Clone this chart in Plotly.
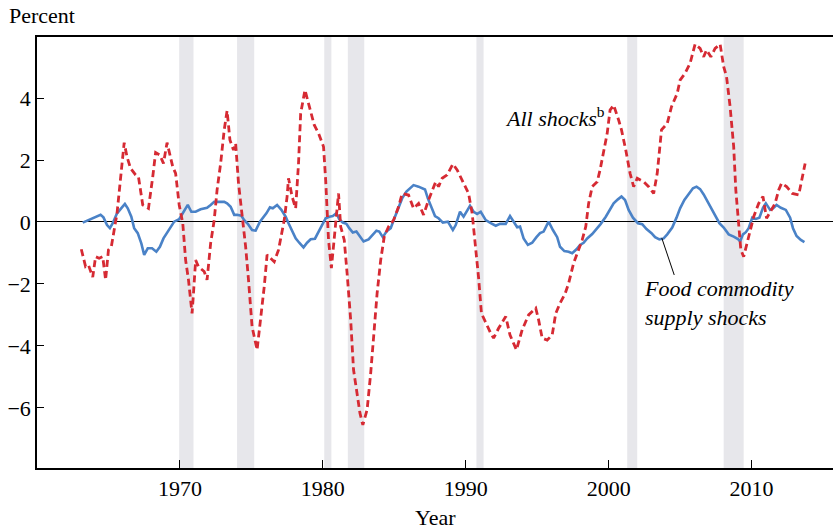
import plotly.graph_objects as go

# ---- data ----
all_years = [1963.1,1963.4,1963.6,1963.9,1964.1,1964.35,1964.6,1964.8,1965.0,1965.2,1965.6,1965.85,
 1966.1,1966.3,1966.55,1966.9,1967.1,1967.4,1967.8,1968.1,1968.3,1968.6,1968.85,1969.1,1969.5,1969.7,
 1969.95,1970.2,1970.4,1970.6,1970.85,1970.95,1971.1,1971.3,1971.7,1971.9,1972.15,1972.4,1972.6,1972.85,
 1973.1,1973.3,1973.5,1973.75,1973.9,1974.1,1974.35,1974.6,1974.8,1975.05,1975.4,1975.65,1975.9,1976.1,
 1976.6,1976.9,1977.3,1977.5,1977.6,1977.85,1978.1,1978.3,1978.45,1978.75,1979.0,1979.4,1979.7,1980.05,
 1980.2,1980.4,1980.6,1980.85,1981.1,1981.25,1981.5,1981.7,1981.95,1982.15,1982.4,1982.6,1982.8,1983.1,
 1983.35,1983.55,1983.8,1984.05,1984.3,1984.6,1984.95,1985.3,1985.55,1986.0,1986.35,1986.7,1987.05,1987.4,
 1987.65,1987.9,1988.1,1988.35,1988.7,1989.1,1989.4,1989.75,1990.0,1990.2,1990.45,1990.7,1990.9,1991.1,
 1991.4,1991.75,1991.95,1992.3,1992.8,1993.1,1993.55,1993.95,1994.4,1994.9,1995.1,1995.35,1995.7,1996.05,
 1996.3,1996.6,1996.95,1997.2,1997.55,1997.8,1998.15,1998.4,1998.6,1998.85,1999.2,1999.4,1999.65,1999.9,
 2000.1,2000.35,2000.7,2000.9,2001.2,2001.5,2001.75,2002.0,2002.45,2002.8,2003.15,2003.4,2003.7,2004.1,
 2004.4,2004.8,2005.0,2005.35,2005.7,2006.05,2006.4,2006.65,2006.85,2007.15,2007.45,2007.8,2008.05,2008.25,
 2008.5,2008.75,2008.9,2009.1,2009.25,2009.45,2009.7,2009.9,2010.15,2010.5,2010.8,2011.05,2011.3,2011.65,
 2011.9,2012.1,2012.45,2012.85,2013.3,2013.5,2013.75]
all_shocks = [-0.88,-1.44,-1.39,-1.78,-1.12,-1.17,-1.12,-1.87,-0.9,-0.8,0.28,1.35,
 2.56,2.1,1.73,1.52,1.46,0.55,0.44,1.46,2.24,2.16,1.89,2.56,1.78,1.57,
 0.55,-0.04,-1.23,-1.87,-2.95,-2.3,-1.23,-1.44,-1.6,-1.87,-0.69,0.06,1.03,1.89,
 2.97,3.59,2.65,2.32,2.54,1.25,0.28,-0.8,-1.87,-3.38,-4.13,-3.16,-2.09,-1.06,
 -1.28,-0.9,0.06,0.82,1.41,0.82,0.44,1.89,3.5,4.26,3.83,3.13,2.86,2.43,
 1.35,-0.58,-1.49,-0.15,0.92,-0.15,-0.58,-1.66,-3.16,-4.77,-5.53,-6.17,-6.55,-6.06,
 -4.88,-3.59,-2.3,-1.23,-0.47,-0.15,0.06,0.49,0.92,0.87,0.44,0.6,0.23,0.71,
 1.03,1.3,1.14,1.41,1.52,1.87,1.68,1.35,1.14,0.92,0.28,-0.8,-1.8,-2.95,
 -3.27,-3.59,-3.75,-3.43,-3.05,-3.65,-4.13,-3.48,-3.0,-2.78,-3.16,-3.75,-3.81,-3.65,
 -2.95,-2.62,-2.32,-1.98,-1.33,-1.01,-0.58,-0.15,0.6,1.14,1.3,1.68,2.32,2.86,
 3.61,3.77,3.29,2.97,2.32,1.57,1.14,1.41,1.3,1.14,0.92,1.57,2.97,3.18,
 3.72,4.15,4.58,4.8,5.12,5.74,5.6,5.33,5.55,5.33,5.6,5.74,5.01,4.69,
 3.72,2.43,1.03,-0.26,-0.9,-1.12,-0.69,-0.26,0.17,0.6,0.82,0.12,0.33,0.6,
 1.03,1.25,1.14,0.92,0.87,1.35,1.89]

food_years = [1963.2,1963.5,1963.9,1964.2,1964.45,1964.65,1964.9,1965.1,1965.3,1965.6,1965.9,1966.15,
 1966.35,1966.6,1966.8,1967.05,1967.3,1967.5,1967.75,1968.05,1968.35,1968.6,1968.85,1969.1,1969.4,1969.6,
 1969.95,1970.15,1970.4,1970.55,1970.8,1971.1,1971.45,1971.7,1971.9,1972.15,1972.4,1972.75,1973.1,1973.3,
 1973.55,1973.8,1974.0,1974.3,1974.5,1974.75,1975.05,1975.3,1975.6,1976.05,1976.3,1976.5,1976.8,1977.1,
 1977.4,1977.6,1977.85,1978.1,1978.35,1978.65,1978.9,1979.15,1979.45,1979.7,1979.95,1980.2,1980.45,1980.7,
 1980.95,1981.15,1981.4,1981.65,1981.85,1982.1,1982.35,1982.55,1982.85,1983.2,1983.45,1983.75,1983.95,1984.2,
 1984.45,1984.75,1985.05,1985.3,1985.55,1985.85,1986.15,1986.35,1986.7,1987.15,1987.35,1987.6,1987.85,1988.1,
 1988.4,1988.75,1989.1,1989.3,1989.6,1989.85,1990.3,1990.55,1990.8,1991.05,1991.4,1991.75,1992.1,1992.4,
 1992.8,1993.1,1993.35,1993.6,1993.8,1994.05,1994.35,1994.65,1994.95,1995.2,1995.45,1995.8,1996.1,1996.4,
 1996.6,1996.9,1997.2,1997.45,1997.75,1998.0,1998.25,1998.5,1998.85,1999.15,1999.45,1999.8,2000.1,2000.35,
 2000.65,2000.9,2001.15,2001.4,2001.7,2002.05,2002.35,2002.65,2003.0,2003.25,2003.55,2003.85,2004.1,2004.45,
 2004.75,2005.0,2005.3,2005.6,2005.9,2006.15,2006.4,2006.65,2006.9,2007.15,2007.45,2007.75,2008.05,2008.4,
 2008.75,2009.05,2009.2,2009.4,2009.6,2009.8,2010.05,2010.3,2010.55,2010.8,2011.0,2011.3,2011.5,2011.75,
 2012.05,2012.4,2012.7,2012.9,2013.15,2013.45,2013.7]
food_shocks = [-0.02,0.04,0.12,0.19,0.23,0.15,-0.1,-0.2,-0.04,0.28,0.44,0.58,
 0.44,0.17,-0.2,-0.36,-0.69,-1.06,-0.85,-0.85,-0.96,-0.8,-0.53,-0.36,-0.15,0.01,
 0.09,0.23,0.41,0.55,0.33,0.33,0.41,0.44,0.46,0.55,0.65,0.65,0.65,0.6,
 0.49,0.23,0.23,0.2,0.06,-0.06,-0.26,-0.28,0.01,0.28,0.47,0.44,0.55,0.39,
 0.17,-0.04,-0.31,-0.53,-0.67,-0.82,-0.67,-0.56,-0.54,-0.31,-0.1,0.12,0.17,0.19,
 0.28,0.09,-0.02,-0.06,-0.2,-0.34,-0.31,-0.45,-0.63,-0.56,-0.42,-0.28,-0.31,-0.49,
 -0.31,-0.2,0.17,0.44,0.76,0.98,1.12,1.19,1.14,1.05,0.76,0.44,0.19,0.12,
 -0.02,0.01,-0.26,-0.1,0.33,0.17,0.52,0.33,0.26,0.33,0.06,-0.04,-0.12,-0.06,
 -0.06,0.19,0.01,-0.17,-0.15,-0.53,-0.74,-0.67,-0.49,-0.36,-0.31,0.01,-0.26,-0.49,
 -0.8,-0.94,-0.96,-1.01,-0.88,-0.74,-0.67,-0.53,-0.39,-0.24,-0.06,0.17,0.39,0.6,
 0.73,0.82,0.71,0.39,0.14,-0.04,-0.07,-0.23,-0.36,-0.49,-0.56,-0.53,-0.4,-0.18,
 0.14,0.44,0.71,0.92,1.09,1.14,1.06,0.89,0.68,0.44,0.17,-0.04,-0.18,-0.4,
 -0.47,-0.55,-0.63,-0.4,-0.33,-0.2,0.14,0.1,0.14,0.46,0.6,0.39,0.44,0.55,
 0.46,0.39,0.14,-0.2,-0.45,-0.58,-0.65]

recession_start = [1969.95, 1974.0, 1980.1, 1981.75, 1990.75, 2001.3, 2008.05]
recession_end = [1970.95, 1975.2, 1980.6, 1982.9, 1991.25, 2002.0, 2009.45]

x_ticks = [1970, 1980, 1990, 2000, 2010]
y_ticks = [-6, -4, -2, 0, 2, 4]
y_tick_labels = ["\u22126", "\u22124", "\u22122", "0", "2", "4"]

FONT = "Liberation Serif"
RED = "#d62a33"
BLUE = "#4a82c7"
BAND = "#e7e7eb"

fig = go.Figure()
fig.add_trace(go.Scatter(x=food_years, y=food_shocks, mode="lines",
                         line=dict(color=BLUE, width=2.6), hoverinfo="skip"))
fig.add_trace(go.Scatter(x=all_years, y=all_shocks, mode="lines",
                         line=dict(color=RED, width=2.8, dash="7px,4px"), hoverinfo="skip"))

shapes = []
for s, e in zip(recession_start, recession_end):
    shapes.append(dict(type="rect", xref="x", yref="paper", x0=s, x1=e, y0=0, y1=1,
                       fillcolor=BAND, line=dict(width=0), layer="below"))
# leader line for the food-commodity label
shapes.append(dict(type="line", xref="x", yref="y", x0=2003.72, y0=-0.52, x1=2004.59, y1=-1.71,
                   line=dict(color="black", width=1)))

annotations = [
    dict(text="Percent", xref="paper", yref="paper", x=-0.0377, y=1.051,
         xanchor="left", yanchor="middle", showarrow=False,
         font=dict(family=FONT, size=22, color="black")),
    dict(text="Year", xref="paper", yref="paper", x=0.5, y=-0.114,
         xanchor="center", yanchor="middle", showarrow=False,
         font=dict(family=FONT, size=22, color="black")),
    dict(text="<i>All shocks</i><sup>b</sup>", xref="x", yref="y", x=1992.6, y=3.4,
         xanchor="left", yanchor="middle", showarrow=False,
         font=dict(family=FONT, size=22, color="black")),
    dict(text="<i>Food commodity<br>supply shocks</i>", xref="x", yref="y", x=2002.3, y=-2.6,
         xanchor="left", yanchor="middle", align="left", showarrow=False,
         font=dict(family=FONT, size=22, color="black")),
]

fig.update_layout(
    width=833, height=529,
    margin=dict(l=37, r=0, t=37, b=61, autoexpand=False),
    paper_bgcolor="white", plot_bgcolor="white",
    showlegend=False,
    shapes=shapes, annotations=annotations,
    font=dict(family=FONT, size=22, color="black"),
)
fig.update_xaxes(range=[1960, 2015.7], tickvals=x_ticks, ticks="inside", ticklen=8,
                 tickwidth=1.3, tickcolor="black", showline=True, linecolor="black",
                 linewidth=1.5, mirror=True, showgrid=False, zeroline=False, automargin=False,
                 tickfont=dict(family=FONT, size=22, color="black"))
fig.update_yaxes(range=[-7.94, 5.97], tickvals=y_ticks, ticktext=y_tick_labels,
                 ticks="inside", ticklen=7, tickwidth=1.3, tickcolor="black",
                 showline=True, linecolor="black", linewidth=1.5, showgrid=False,
                 zeroline=True, zerolinecolor="black", zerolinewidth=1.3, automargin=False,
                 tickfont=dict(family=FONT, size=22, color="black"))

fig.write_html("out.html", config={"displayModeBar": False},
               post_script="document.body.style.margin='0';document.body.style.overflow='hidden';")
